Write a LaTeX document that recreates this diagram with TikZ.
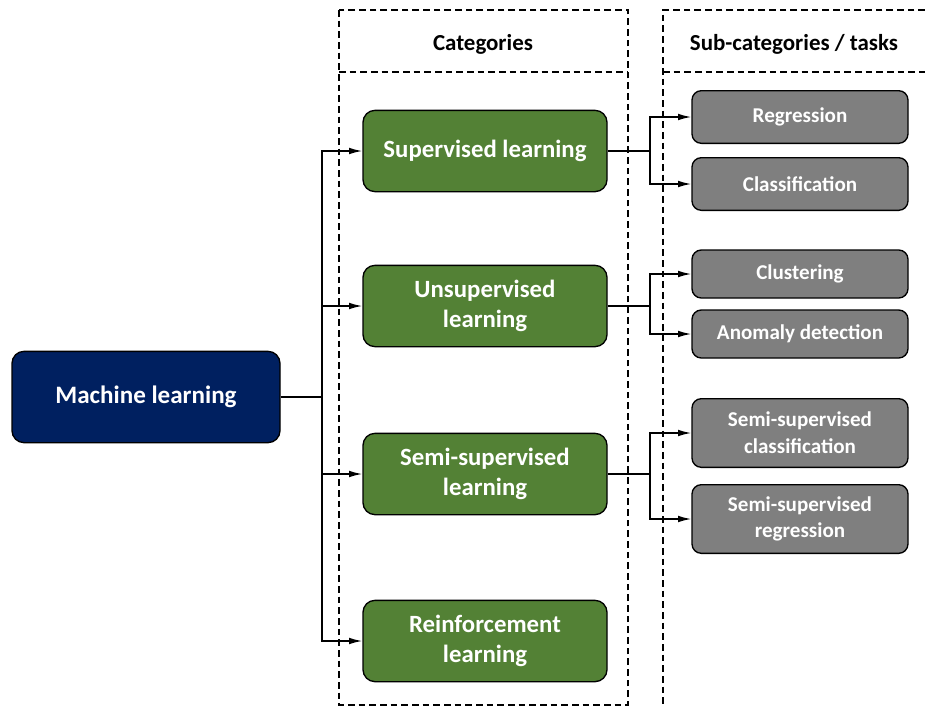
\documentclass[tikz,border=0pt]{standalone}
\usepackage{fontspec}
\setmainfont{Carlito}
\usetikzlibrary{arrows.meta}
\definecolor{mlblue}{HTML}{002060}
\definecolor{catgreen}{HTML}{538135}
\definecolor{taskgray}{HTML}{7F7F7F}
\tikzset{
  rootbox/.style = {draw, line width=1pt, fill=mlblue, text=white, rounded corners=9pt, inner sep=0pt,
                    minimum width=201pt, minimum height=68.5pt, font=\bfseries\fontsize{18.8}{22}\selectfont},
  catbox/.style  = {draw, line width=1pt, fill=catgreen, text=white, rounded corners=9pt, inner sep=0pt,
                    minimum width=183pt, minimum height=61pt, align=center, font=\bfseries\fontsize{18.6}{22.5}\selectfont},
  taskbox/.style = {draw, line width=1pt, fill=taskgray, text=white, rounded corners=7pt, inner sep=0pt,
                    minimum width=162pt, align=center, font=\bfseries\fontsize{15.8}{20}\selectfont},
  colframe/.style= {line width=0.8pt, dash pattern=on 5pt off 3pt},
  header/.style  = {font=\bfseries\fontsize{17.2}{20}\selectfont},
  link/.style    = {line width=1.5pt},
  branch/.style  = {line width=1.1pt, -{Latex[length=10pt,width=5pt]}},
}
\begin{document}
\begin{tikzpicture}[x=0.75pt, y=-0.75pt]
    \useasboundingbox (0,0) rectangle (925,707);
    % column frames
    \draw [colframe] (339,10) rectangle (628,705);
    \draw [colframe] (339,72) -- (628,72);
    \draw [colframe] (925,10) -- (663,10) -- (663,707);
    \draw [colframe] (663,72) -- (925,72);
    \node [header] (cathead) at (483,44) {Categories};
    \node [header] (taskhead) at (794,44) {Sub-categories / tasks};

    % root and categories
    \node [rootbox] (ml) at (146,397) {Machine learning};
    \node [catbox] (sup) at (485,151) {Supervised learning};
    \node [catbox] (unsup) at (485,306) {Unsupervised\\learning};
    \node [catbox] (semi) at (485,474) {Semi-supervised\\learning};
    \node [catbox] (rl) at (485,641) {Reinforcement\\learning};

    % tasks
    \node [taskbox, minimum height=39.5pt] (reg) at (800,117) {Regression};
    \node [taskbox, minimum height=39.5pt] (cla) at (800,184) {Classification};
    \node [taskbox, minimum height=36pt] (clu) at (800,274) {Clustering};
    \node [taskbox, minimum height=36pt] (ano) at (800,334) {Anomaly detection};
    \node [taskbox, minimum height=51.5pt] (ssc) at (800,433) {Semi-supervised\\classification};
    \node [taskbox, minimum height=51.5pt] (ssr) at (800,519) {Semi-supervised\\regression};

    % connectors
    \coordinate (trunk) at (322,397);
    \draw [link] (ml.east) -- (trunk);
    \foreach \c in {sup, unsup, semi, rl}
        \draw [branch] (trunk) |- (\c.west);

    \coordinate (fork1) at (650,151);
    \coordinate (fork2) at (650,306);
    \coordinate (fork3) at (650,474);
    \draw [link] (sup.east) -- (fork1);
    \draw [link] (unsup.east) -- (fork2);
    \draw [link] (semi.east) -- (fork3);
    \draw [branch] (fork1) |- (reg.west);
    \draw [branch] (fork1) |- (cla.west);
    \draw [branch] (fork2) |- (clu.west);
    \draw [branch] (fork2) |- (ano.west);
    \draw [branch] (fork3) |- (ssc.west);
    \draw [branch] (fork3) |- (ssr.west);
\end{tikzpicture}
\end{document}
